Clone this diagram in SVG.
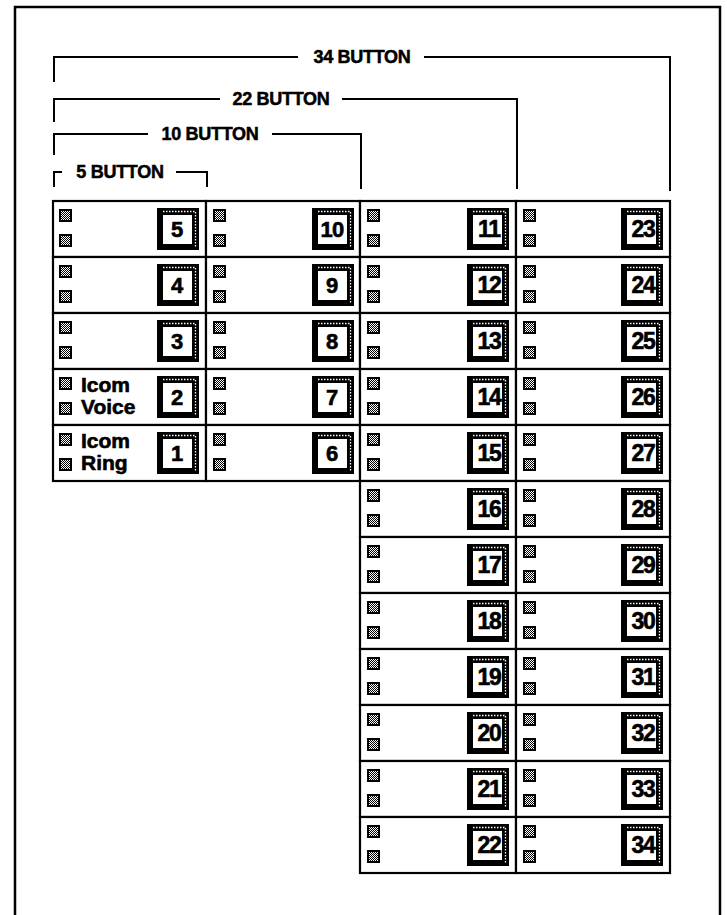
<svg xmlns="http://www.w3.org/2000/svg" xmlns:xlink="http://www.w3.org/1999/xlink" width="727" height="915" viewBox="0 0 727 915">
<style>
.frame{fill:none;stroke:#000;stroke-width:2.5}
.br{fill:none;stroke:#000;stroke-width:2}
.lbl{font-family:"Liberation Sans",Arial,sans-serif;font-weight:bold;font-size:18px;fill:#000;stroke:#000;stroke-width:0.5;text-anchor:middle;letter-spacing:-0.3px}
.cell{fill:#fff;stroke:#000;stroke-width:2.2}
.num{font-family:"Liberation Sans",Arial,sans-serif;font-weight:bold;font-size:22px;fill:#000;stroke:#000;stroke-width:0.6;text-anchor:middle}
.num2{font-family:"Liberation Sans",Arial,sans-serif;font-weight:bold;font-size:23px;fill:#000;stroke:#000;stroke-width:0.6;text-anchor:middle;letter-spacing:-1.2px}
.txt{font-family:"Liberation Sans",Arial,sans-serif;font-weight:bold;font-size:21px;fill:#000;stroke:#000;stroke-width:0.6}
</style>
<defs>
<pattern id="hatch" width="2" height="2" patternUnits="userSpaceOnUse">
<rect width="2" height="2" fill="#000"/>
<rect width="1" height="1" fill="#fff"/>
<rect x="1" y="1" width="1" height="1" fill="#fff"/>
</pattern>
<g id="led">
<rect width="13" height="13" fill="#000"/>
<rect x="2" y="2" width="9" height="9" fill="url(#hatch)"/>
</g>
<g id="leds">
<use xlink:href="#led" x="0" y="0"/>
<use xlink:href="#led" x="0" y="25"/>
</g>
<g id="box">
<rect width="42" height="42" fill="#000"/>
<rect x="6" y="7" width="29" height="29" fill="#fff"/>
<line x1="6" y1="3.5" x2="39" y2="3.5" stroke="#fff" stroke-width="1.3" stroke-dasharray="1.5 1.5"/>
<line x1="38.5" y1="4" x2="38.5" y2="39" stroke="#fff" stroke-width="1.3" stroke-dasharray="1.5 1.5"/>
</g>
</defs>
<rect width="727" height="915" fill="#fff"/>
<rect class="frame" x="15" y="7" width="705" height="920"/>

<g id="connectors">
<g id="bracket-34">
<polyline class="br" points="54,82 54,57 298,57"/>
<polyline class="br" points="424,57 670,57 670,191"/>
<text class="lbl" x="362" y="63">34 BUTTON</text>
</g>
<g id="bracket-22">
<polyline class="br" points="54,122 54,99 220,99"/>
<polyline class="br" points="342,99 517,99 517,189"/>
<text class="lbl" x="281" y="105">22 BUTTON</text>
</g>
<g id="bracket-10">
<polyline class="br" points="54,155 54,134 148,134"/>
<polyline class="br" points="272,134 361,134 361,189"/>
<text class="lbl" x="210" y="140">10 BUTTON</text>
</g>
<g id="bracket-5">
<polyline class="br" points="54,187 54,172 62,172"/>
<polyline class="br" points="176,172 207,172 207,187"/>
<text class="lbl" x="120" y="178">5 BUTTON</text>
</g>
</g>

<g id="cell-5"><rect class="cell" x="53" y="201" width="153" height="56"/><use xlink:href="#leds" x="59" y="209"/><use xlink:href="#box" x="157" y="208"/><text class="num" x="177" y="237">5</text></g>
<g id="cell-4"><rect class="cell" x="53" y="257" width="153" height="56"/><use xlink:href="#leds" x="59" y="265"/><use xlink:href="#box" x="157" y="264"/><text class="num" x="177" y="293">4</text></g>
<g id="cell-3"><rect class="cell" x="53" y="313" width="153" height="56"/><use xlink:href="#leds" x="59" y="321"/><use xlink:href="#box" x="157" y="320"/><text class="num" x="177" y="349">3</text></g>
<g id="cell-2"><rect class="cell" x="53" y="369" width="153" height="56"/><use xlink:href="#leds" x="59" y="377"/><text class="txt" x="81" y="392">Icom</text><text class="txt" x="81" y="414">Voice</text><use xlink:href="#box" x="157" y="376"/><text class="num" x="177" y="405">2</text></g>
<g id="cell-1"><rect class="cell" x="53" y="425" width="153" height="56"/><use xlink:href="#leds" x="59" y="433"/><text class="txt" x="81" y="448">Icom</text><text class="txt" x="81" y="470">Ring</text><use xlink:href="#box" x="157" y="432"/><text class="num" x="177" y="461">1</text></g>

<g id="cell-10"><rect class="cell" x="206" y="201" width="154" height="56"/><use xlink:href="#leds" x="213" y="209"/><use xlink:href="#box" x="312" y="208"/><text class="num" x="332" y="237" style="letter-spacing:-0.8px">10</text></g>
<g id="cell-9"><rect class="cell" x="206" y="257" width="154" height="56"/><use xlink:href="#leds" x="213" y="265"/><use xlink:href="#box" x="312" y="264"/><text class="num" x="332" y="293">9</text></g>
<g id="cell-8"><rect class="cell" x="206" y="313" width="154" height="56"/><use xlink:href="#leds" x="213" y="321"/><use xlink:href="#box" x="312" y="320"/><text class="num" x="332" y="349">8</text></g>
<g id="cell-7"><rect class="cell" x="206" y="369" width="154" height="56"/><use xlink:href="#leds" x="213" y="377"/><use xlink:href="#box" x="312" y="376"/><text class="num" x="332" y="405">7</text></g>
<g id="cell-6"><rect class="cell" x="206" y="425" width="154" height="56"/><use xlink:href="#leds" x="213" y="433"/><use xlink:href="#box" x="312" y="432"/><text class="num" x="332" y="461">6</text></g>

<g id="cell-11"><rect class="cell" x="360" y="201" width="156" height="56"/><use xlink:href="#leds" x="367" y="209"/><use xlink:href="#box" x="467" y="208"/><text class="num2" x="489" y="237">11</text></g>
<g id="cell-12"><rect class="cell" x="360" y="257" width="156" height="56"/><use xlink:href="#leds" x="367" y="265"/><use xlink:href="#box" x="467" y="264"/><text class="num2" x="489" y="293">12</text></g>
<g id="cell-13"><rect class="cell" x="360" y="313" width="156" height="56"/><use xlink:href="#leds" x="367" y="321"/><use xlink:href="#box" x="467" y="320"/><text class="num2" x="489" y="349">13</text></g>
<g id="cell-14"><rect class="cell" x="360" y="369" width="156" height="56"/><use xlink:href="#leds" x="367" y="377"/><use xlink:href="#box" x="467" y="376"/><text class="num2" x="489" y="405">14</text></g>
<g id="cell-15"><rect class="cell" x="360" y="425" width="156" height="56"/><use xlink:href="#leds" x="367" y="433"/><use xlink:href="#box" x="467" y="432"/><text class="num2" x="489" y="461">15</text></g>
<g id="cell-16"><rect class="cell" x="360" y="481" width="156" height="56"/><use xlink:href="#leds" x="367" y="489"/><use xlink:href="#box" x="467" y="488"/><text class="num2" x="489" y="517">16</text></g>
<g id="cell-17"><rect class="cell" x="360" y="537" width="156" height="56"/><use xlink:href="#leds" x="367" y="545"/><use xlink:href="#box" x="467" y="544"/><text class="num2" x="489" y="573">17</text></g>
<g id="cell-18"><rect class="cell" x="360" y="593" width="156" height="56"/><use xlink:href="#leds" x="367" y="601"/><use xlink:href="#box" x="467" y="600"/><text class="num2" x="489" y="629">18</text></g>
<g id="cell-19"><rect class="cell" x="360" y="649" width="156" height="56"/><use xlink:href="#leds" x="367" y="657"/><use xlink:href="#box" x="467" y="656"/><text class="num2" x="489" y="685">19</text></g>
<g id="cell-20"><rect class="cell" x="360" y="705" width="156" height="56"/><use xlink:href="#leds" x="367" y="713"/><use xlink:href="#box" x="467" y="712"/><text class="num2" x="489" y="741">20</text></g>
<g id="cell-21"><rect class="cell" x="360" y="761" width="156" height="56"/><use xlink:href="#leds" x="367" y="769"/><use xlink:href="#box" x="467" y="768"/><text class="num2" x="489" y="797">21</text></g>
<g id="cell-22"><rect class="cell" x="360" y="817" width="156" height="56"/><use xlink:href="#leds" x="367" y="825"/><use xlink:href="#box" x="467" y="824"/><text class="num2" x="489" y="853">22</text></g>

<g id="cell-23"><rect class="cell" x="516" y="201" width="154" height="56"/><use xlink:href="#leds" x="523" y="209"/><use xlink:href="#box" x="621" y="208"/><text class="num2" x="643" y="237">23</text></g>
<g id="cell-24"><rect class="cell" x="516" y="257" width="154" height="56"/><use xlink:href="#leds" x="523" y="265"/><use xlink:href="#box" x="621" y="264"/><text class="num2" x="643" y="293">24</text></g>
<g id="cell-25"><rect class="cell" x="516" y="313" width="154" height="56"/><use xlink:href="#leds" x="523" y="321"/><use xlink:href="#box" x="621" y="320"/><text class="num2" x="643" y="349">25</text></g>
<g id="cell-26"><rect class="cell" x="516" y="369" width="154" height="56"/><use xlink:href="#leds" x="523" y="377"/><use xlink:href="#box" x="621" y="376"/><text class="num2" x="643" y="405">26</text></g>
<g id="cell-27"><rect class="cell" x="516" y="425" width="154" height="56"/><use xlink:href="#leds" x="523" y="433"/><use xlink:href="#box" x="621" y="432"/><text class="num2" x="643" y="461">27</text></g>
<g id="cell-28"><rect class="cell" x="516" y="481" width="154" height="56"/><use xlink:href="#leds" x="523" y="489"/><use xlink:href="#box" x="621" y="488"/><text class="num2" x="643" y="517">28</text></g>
<g id="cell-29"><rect class="cell" x="516" y="537" width="154" height="56"/><use xlink:href="#leds" x="523" y="545"/><use xlink:href="#box" x="621" y="544"/><text class="num2" x="643" y="573">29</text></g>
<g id="cell-30"><rect class="cell" x="516" y="593" width="154" height="56"/><use xlink:href="#leds" x="523" y="601"/><use xlink:href="#box" x="621" y="600"/><text class="num2" x="643" y="629">30</text></g>
<g id="cell-31"><rect class="cell" x="516" y="649" width="154" height="56"/><use xlink:href="#leds" x="523" y="657"/><use xlink:href="#box" x="621" y="656"/><text class="num2" x="643" y="685">31</text></g>
<g id="cell-32"><rect class="cell" x="516" y="705" width="154" height="56"/><use xlink:href="#leds" x="523" y="713"/><use xlink:href="#box" x="621" y="712"/><text class="num2" x="643" y="741">32</text></g>
<g id="cell-33"><rect class="cell" x="516" y="761" width="154" height="56"/><use xlink:href="#leds" x="523" y="769"/><use xlink:href="#box" x="621" y="768"/><text class="num2" x="643" y="797">33</text></g>
<g id="cell-34"><rect class="cell" x="516" y="817" width="154" height="56"/><use xlink:href="#leds" x="523" y="825"/><use xlink:href="#box" x="621" y="824"/><text class="num2" x="643" y="853">34</text></g>
</svg>
